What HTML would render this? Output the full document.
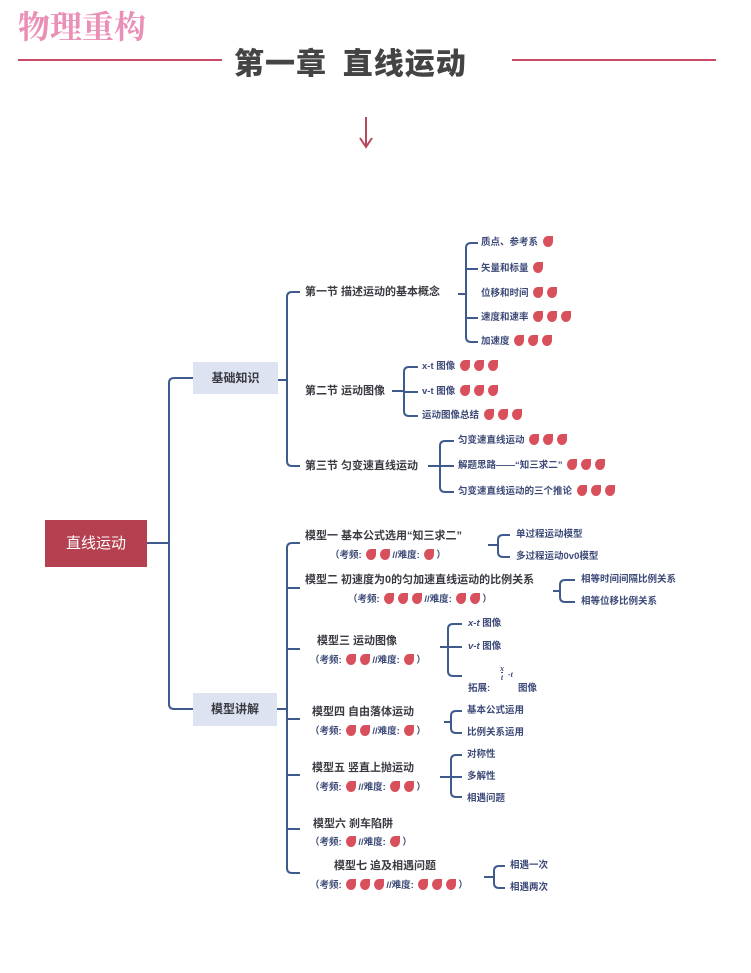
<!DOCTYPE html>
<html><head><meta charset="utf-8"><style>
body{margin:0;width:751px;height:973px;background:#fff;position:relative;overflow:hidden;font-family:"Liberation Sans","Noto Sans CJK SC",sans-serif}
.t{position:absolute;white-space:nowrap;line-height:14px}
.s{font-size:11px;font-weight:bold;color:#3a3a42}
.l{font-size:9.5px;font-weight:bold;color:#3d4a78}
.k{font-size:9.5px;font-weight:bold;color:#3d4a78}
.f{display:inline-block;width:10px;height:11px;background:#d8505c;border-radius:60% 0 60% 60%;margin:0 2px;vertical-align:-2px}
</style></head><body>
<div class="t" style="left:18px;top:6px;font-size:32px;line-height:38px;font-weight:bold;color:#ea8fb6;font-family:'Noto Serif CJK SC',serif">物理重构</div>
<div style="position:absolute;left:18px;top:59px;width:204px;height:2px;background:#c94a64"></div>
<div style="position:absolute;left:512px;top:59px;width:204px;height:2px;background:#c94a64"></div>
<div class="t" style="left:234px;top:43px;font-size:30px;line-height:36px;font-weight:900;color:#444;font-family:'Noto Sans CJK SC',sans-serif;letter-spacing:1px">第一章&nbsp;&nbsp;直线运动</div>
<svg style="position:absolute;left:0;top:0" width="751" height="973">
<g stroke="#b8485c" stroke-width="2" fill="none"><line x1="366" y1="117" x2="366" y2="146"/><polyline points="360,138 366,147 372,138"/></g>
<g stroke="#3f5a8c" stroke-width="2" fill="none">
<line x1="147" y1="543" x2="169" y2="543"/>
<path d="M193,378 H174 Q169,378 169,383 V704 Q169,709 174,709 H193"/>
<line x1="278" y1="380" x2="287" y2="380"/>
<path d="M300,292 H292 Q287,292 287,297 V461 Q287,466 292,466 H300"/>
<line x1="458" y1="294" x2="466" y2="294"/>
<path d="M478,243 H471 Q466,243 466,248 V337 Q466,342 471,342 H478"/>
<line x1="466" y1="269" x2="478" y2="269"/><line x1="466" y1="318" x2="478" y2="318"/>
<line x1="392" y1="391" x2="404" y2="391"/>
<path d="M418,367 H409 Q404,367 404,372 V411 Q404,416 409,416 H418"/>
<line x1="404" y1="392" x2="418" y2="392"/>
<line x1="428" y1="466" x2="440" y2="466"/>
<path d="M454,441 H445 Q440,441 440,446 V487 Q440,492 445,492 H454"/>
<line x1="440" y1="466" x2="454" y2="466"/>
<line x1="277" y1="709" x2="287" y2="709"/>
<path d="M300,543 H292 Q287,543 287,548 V868 Q287,873 292,873 H300"/>
<line x1="287" y1="588" x2="300" y2="588"/><line x1="287" y1="649" x2="300" y2="649"/>
<line x1="287" y1="719" x2="300" y2="719"/><line x1="287" y1="775" x2="300" y2="775"/>
<line x1="287" y1="829" x2="300" y2="829"/>
<line x1="488" y1="545" x2="498" y2="545"/>
<path d="M510,535 H503 Q498,535 498,540 V552 Q498,557 503,557 H510"/>
<line x1="553" y1="591" x2="560" y2="591"/>
<path d="M575,580 H565 Q560,580 560,585 V597 Q560,602 565,602 H575"/>
<line x1="440" y1="647" x2="448" y2="647"/>
<path d="M462,624 H453 Q448,624 448,629 V671 Q448,676 453,676 H462"/>
<line x1="448" y1="647" x2="462" y2="647"/>
<path d="M462,711 H456 Q451,711 451,716 V728 Q451,733 456,733 H462"/>
<line x1="444" y1="722" x2="451" y2="722"/>
<line x1="440" y1="777" x2="462" y2="777"/>
<path d="M462,755 H456 Q451,755 451,760 V792 Q451,797 456,797 H462"/>
<line x1="484" y1="877" x2="494" y2="877"/>
<path d="M505,866 H499 Q494,866 494,871 V883 Q494,888 499,888 H505"/>
</g></svg>
<div style="position:absolute;left:45px;top:520px;width:102px;height:47px;background:#b5404f;color:#fff;font-size:15px;line-height:47px;text-align:center">直线运动</div>
<div style="position:absolute;left:193px;top:362px;width:85px;height:32px;background:#dde3f1;color:#3a3a42;font-size:12px;font-weight:bold;line-height:32px;text-align:center">基础知识</div>
<div style="position:absolute;left:193px;top:693px;width:84px;height:33px;background:#dde3f1;color:#3a3a42;font-size:12px;font-weight:bold;line-height:33px;text-align:center">模型讲解</div>

<div class="t s" style="left:305px;top:285px">第一节 描述运动的基本概念</div>
<div class="t s" style="left:305px;top:384px">第二节 运动图像</div>
<div class="t s" style="left:305px;top:459px">第三节 匀变速直线运动</div>
<div class="t l" style="left:481px;top:236px">质点、参考系 <i class="f"></i></div>
<div class="t l" style="left:481px;top:262px">矢量和标量 <i class="f"></i></div>
<div class="t l" style="left:481px;top:287px">位移和时间 <i class="f"></i><i class="f"></i></div>
<div class="t l" style="left:481px;top:311px">速度和速率 <i class="f"></i><i class="f"></i><i class="f"></i></div>
<div class="t l" style="left:481px;top:335px">加速度 <i class="f"></i><i class="f"></i><i class="f"></i></div>
<div class="t l" style="left:422px;top:360px">x-t 图像 <i class="f"></i><i class="f"></i><i class="f"></i></div>
<div class="t l" style="left:422px;top:385px">v-t 图像 <i class="f"></i><i class="f"></i><i class="f"></i></div>
<div class="t l" style="left:422px;top:409px">运动图像总结 <i class="f"></i><i class="f"></i><i class="f"></i></div>
<div class="t l" style="left:458px;top:434px">匀变速直线运动 <i class="f"></i><i class="f"></i><i class="f"></i></div>
<div class="t l" style="left:458px;top:459px">解题思路——“知三求二” <i class="f"></i><i class="f"></i><i class="f"></i></div>
<div class="t l" style="left:458px;top:485px">匀变速直线运动的三个推论 <i class="f"></i><i class="f"></i><i class="f"></i></div>

<div class="t s" style="left:305px;top:529px">模型一 基本公式选用“知三求二”</div>
<div class="t k" style="left:330px;top:549px">（考频: <i class="f"></i><i class="f"></i>//难度: <i class="f"></i>）</div>
<div class="t s" style="left:305px;top:573px">模型二 初速度为0的匀加速直线运动的比例关系</div>
<div class="t k" style="left:348px;top:593px">（考频: <i class="f"></i><i class="f"></i><i class="f"></i>//难度: <i class="f"></i><i class="f"></i>）</div>
<div class="t s" style="left:317px;top:634px">模型三 运动图像</div>
<div class="t k" style="left:310px;top:654px">（考频: <i class="f"></i><i class="f"></i>//难度: <i class="f"></i>）</div>
<div class="t s" style="left:312px;top:705px">模型四 自由落体运动</div>
<div class="t k" style="left:310px;top:725px">（考频: <i class="f"></i><i class="f"></i>//难度: <i class="f"></i>）</div>
<div class="t s" style="left:312px;top:761px">模型五 竖直上抛运动</div>
<div class="t k" style="left:310px;top:781px">（考频: <i class="f"></i>//难度: <i class="f"></i><i class="f"></i>）</div>
<div class="t s" style="left:313px;top:817px">模型六 刹车陷阱</div>
<div class="t k" style="left:310px;top:836px">（考频: <i class="f"></i>//难度: <i class="f"></i>）</div>
<div class="t s" style="left:334px;top:859px">模型七 追及相遇问题</div>
<div class="t k" style="left:310px;top:879px">（考频: <i class="f"></i><i class="f"></i><i class="f"></i>//难度: <i class="f"></i><i class="f"></i><i class="f"></i>）</div>

<div class="t l" style="left:516px;top:528px">单过程运动模型</div>
<div class="t l" style="left:516px;top:550px">多过程运动0v0模型</div>
<div class="t l" style="left:581px;top:573px">相等时间间隔比例关系</div>
<div class="t l" style="left:581px;top:595px">相等位移比例关系</div>
<div class="t l" style="left:468px;top:617px"><i>x-t</i> 图像</div>
<div class="t l" style="left:468px;top:640px"><i>v-t</i> 图像</div>
<div class="t l" style="left:468px;top:682px">拓展:</div>
<div class="t l" style="left:500px;top:664px;font-size:8px;line-height:9px;font-style:italic;font-family:'Liberation Serif',serif;text-align:center">x<br><span style="border-top:1px solid #3d4a78">t</span></div>
<div class="t l" style="left:508px;top:668px;font-size:8px;font-style:italic;font-family:'Liberation Serif',serif">-t</div>
<div class="t l" style="left:518px;top:682px">图像</div>
<div class="t l" style="left:467px;top:704px">基本公式运用</div>
<div class="t l" style="left:467px;top:726px">比例关系运用</div>
<div class="t l" style="left:467px;top:748px">对称性</div>
<div class="t l" style="left:467px;top:770px">多解性</div>
<div class="t l" style="left:467px;top:792px">相遇问题</div>
<div class="t l" style="left:510px;top:859px">相遇一次</div>
<div class="t l" style="left:510px;top:881px">相遇两次</div>
</body></html>
